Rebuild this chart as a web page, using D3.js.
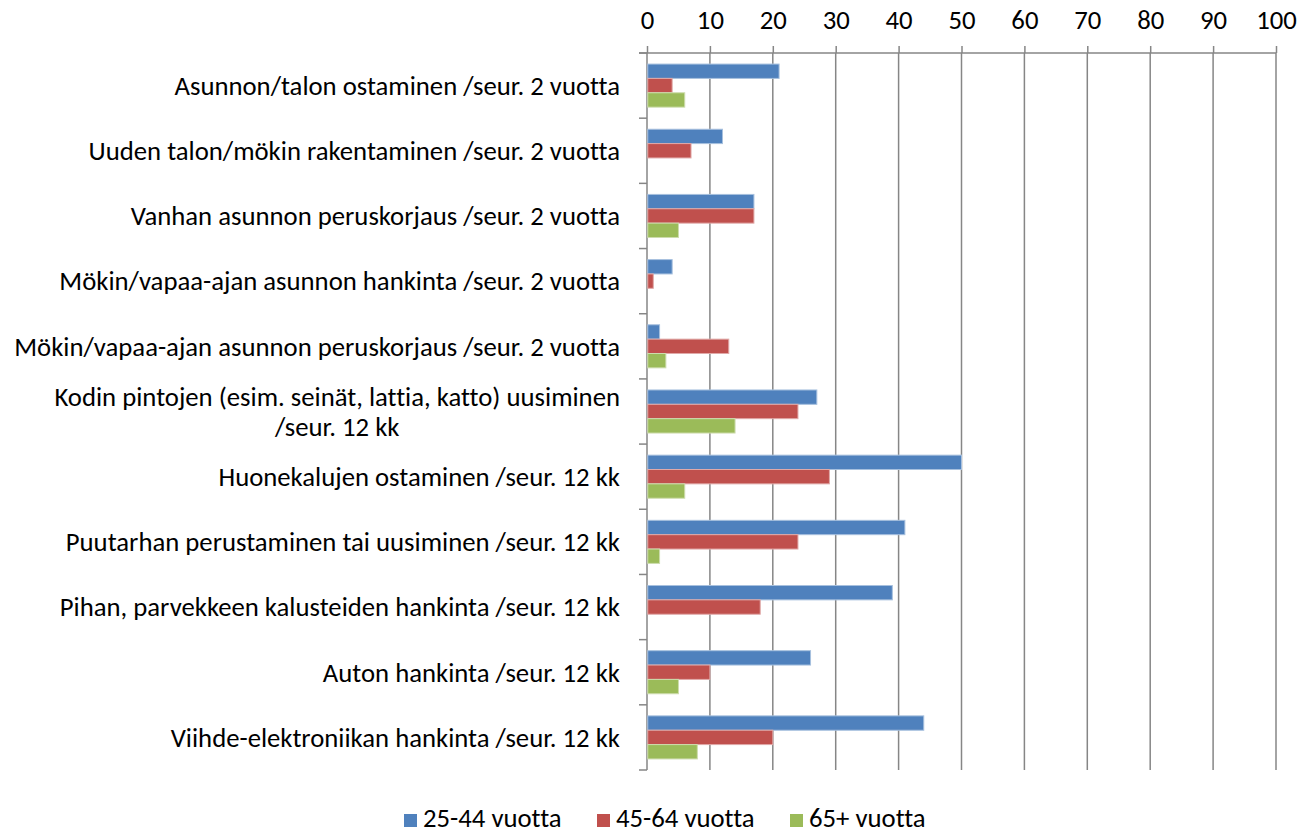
<!DOCTYPE html>
<html>
<head>
<meta charset="utf-8">
<script src="https://cdn.jsdelivr.net/npm/d3@7"></script>
<style>
  body { margin: 0; background: #fff; }
  text { font-family: Carlito, Lato, "Open Sans", sans-serif; fill: #000; font-variant-ligatures: none; font-feature-settings: "liga" 0, "dlig" 0; }
</style>
</head>
<body>
<div class="chart"></div>
<script>
var svgWidth = 1299;
var svgHeight = 836;

var margin = { top: 53, right: 23, bottom: 66, left: 647 };
var width = svgWidth - margin.left - margin.right;
var height = svgHeight - margin.top - margin.bottom;

// data
var categories = [
  ["Asunnon/talon ostaminen /seur. 2 vuotta"],
  ["Uuden talon/mökin rakentaminen /seur. 2 vuotta"],
  ["Vanhan asunnon peruskorjaus /seur. 2 vuotta"],
  ["Mökin/vapaa-ajan asunnon hankinta /seur. 2 vuotta"],
  ["Mökin/vapaa-ajan asunnon peruskorjaus /seur. 2 vuotta"],
  ["Kodin pintojen (esim. seinät, lattia, katto) uusiminen", "/seur. 12 kk"],
  ["Huonekalujen ostaminen /seur. 12 kk"],
  ["Puutarhan perustaminen tai uusiminen /seur. 12 kk"],
  ["Pihan, parvekkeen kalusteiden hankinta /seur. 12 kk"],
  ["Auton hankinta /seur. 12 kk"],
  ["Viihde-elektroniikan hankinta /seur. 12 kk"]
];
var seriesNames = ["25-44 vuotta", "45-64 vuotta", "65+ vuotta"];
var seriesColors = ["#4f81bd", "#c0504d", "#9bbb59"];
var strokeColors = ["#a7c0de", "#e0a9a8", "#cddcad"];
var age25 = [21, 12, 17, 4, 2, 27, 50, 41, 39, 26, 44];
var age45 = [4, 7, 17, 1, 13, 24, 29, 24, 18, 10, 20];
var age65 = [6, 0, 5, 0, 3, 14, 6, 2, 0, 5, 8];
var xTicks = [0, 10, 20, 30, 40, 50, 60, 70, 80, 90, 100];

var seriesValues = [age25, age45, age65];

var svg = d3.select(".chart").append("svg")
  .attr("width", svgWidth)
  .attr("height", svgHeight);

var chartGroup = svg.append("g")
  .attr("transform", `translate(${margin.left}, ${margin.top})`);

var xScale = d3.scaleLinear().domain([0, 100]).range([0, width]);
var yScale = d3.scaleBand()
  .domain(d3.range(categories.length))
  .range([0, height])
  .paddingInner(0)
  .paddingOuter(0);
var inner = d3.scaleBand()
  .domain(d3.range(seriesNames.length))
  .range([0, yScale.bandwidth()])
  .paddingOuter(0.77)
  .paddingInner(0);

var gridColor = "#868686";

// gridlines
chartGroup.append("g").selectAll("line")
  .data(xTicks.slice(1))
  .enter().append("line")
  .attr("x1", d => xScale(d)).attr("x2", d => xScale(d))
  .attr("y1", 0).attr("y2", height)
  .attr("stroke", gridColor).attr("stroke-width", 1.5);

// category labels, sized so the longest fits like the original
var labelGroup = svg.append("g");
var labels = labelGroup.selectAll("text")
  .data(categories)
  .enter().append("text")
  .attr("text-anchor", "middle")
  .style("font-size", "20px");

labels.each(function(lines, i) {
  var t = d3.select(this);
  lines.forEach(function(line, j) {
    t.append("tspan").text(line);
  });
});

var longest = 0;
labels.each(function(lines) {
  d3.select(this).selectAll("tspan").each(function() {
    longest = Math.max(longest, this.getComputedTextLength());
  });
});
var fontSize = 20 * 606 / longest;
labels.style("font-size", fontSize + "px");

var labelRight = 620;
labels.each(function(lines, i) {
  var t = d3.select(this);
  var w = 0;
  t.selectAll("tspan").each(function() { w = Math.max(w, this.getComputedTextLength()); });
  var cx = labelRight - w / 2;
  var cy = margin.top + yScale(i) + yScale.bandwidth() / 2;
  var lh = 30;
  var y0 = cy - (lines.length - 1) * lh / 2;
  t.selectAll("tspan")
    .attr("x", cx)
    .attr("y", (d, j) => y0 + j * lh)
    .attr("dy", "0.35em");
});

// top axis
var topAxis = d3.axisTop(xScale).tickValues(xTicks).tickSize(7).tickPadding(17);
var xAxis = chartGroup.append("g").call(topAxis)
  .attr("font-size", fontSize)
  .attr("font-family", null);
xAxis.select(".domain").attr("stroke", gridColor).attr("stroke-width", 1.5)
  .attr("d", `M-8,0H${width}`);
xAxis.selectAll(".tick line").attr("stroke", gridColor).attr("stroke-width", 1.5);
xAxis.selectAll(".tick text")
  .style("font-size", fontSize + "px")
  .attr("fill", "#000");

// left axis with ticks between categories
var leftGroup = chartGroup.append("g");
leftGroup.append("line")
  .attr("x1", 0).attr("x2", 0).attr("y1", 0).attr("y2", height)
  .attr("stroke", gridColor).attr("stroke-width", 1.5);
leftGroup.selectAll(".ctick")
  .data(d3.range(categories.length + 1))
  .enter().append("line")
  .attr("x1", -8).attr("x2", 0)
  .attr("y1", d => d * yScale.step()).attr("y2", d => d * yScale.step())
  .attr("stroke", gridColor).attr("stroke-width", 1.5);

// bars
seriesValues.forEach(function(vals, s) {
  chartGroup.append("g").selectAll("rect")
    .data(vals)
    .enter().append("rect")
    .attr("x", xScale(0) + 0.75)
    .attr("y", (d, i) => yScale(i) + inner(s))
    .attr("width", d => Math.max(0, xScale(d) - xScale(0) - 0.75))
    .attr("height", inner.bandwidth())
    .attr("fill", seriesColors[s])
    .attr("stroke", d => d > 0 ? strokeColors[s] : "none")
    .attr("stroke-width", 1);
});

// legend
var legendItems = [404, 597, 790];
var legend = svg.append("g");
seriesNames.forEach(function(name, s) {
  legend.append("rect")
    .attr("x", legendItems[s]).attr("y", 814)
    .attr("width", 13).attr("height", 13)
    .attr("fill", seriesColors[s]);
  legend.append("text")
    .attr("x", legendItems[s] + 19).attr("y", 818)
    .attr("dy", "0.35em")
    .style("font-size", fontSize + "px")
    .text(name);
});
</script>
</body>
</html>
